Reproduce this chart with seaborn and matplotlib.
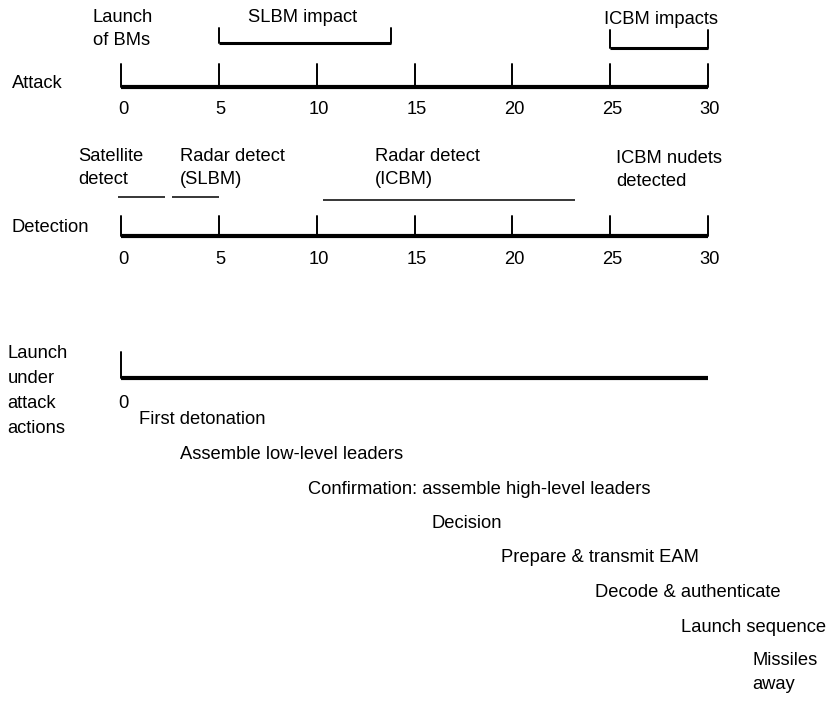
# coding: utf-8
import seaborn as sns
import matplotlib.pyplot as plt
import pandas as pd

width, height, my_dpi = 829, 702, 100

# timeline data (minutes)
ticks = [0, 5, 10, 15, 20, 25, 30]
slbm_impact = [5, 13.8]
icbm_impacts = [25, 30]
satellite_detect = [-0.15, 2.25]
radar_slbm = [2.6, 5.0]
radar_icbm = [10.3, 23.2]
lua_span = [0, 30]
action_labels = ["First detonation", "Assemble low-level leaders",
                 "Confirmation: assemble high-level leaders", "Decision",
                 "Prepare & transmit EAM", "Decode & authenticate",
                 "Launch sequence", "Missiles\naway"]
action_starts = [0.9, 3.0, 9.55, 15.85, 19.4, 24.2, 28.6, 32.25]

sns.set_style("white")
plt.rcParams['font.family'] = ['Liberation Sans', 'DejaVu Sans']
plt.rcParams['text.color'] = 'black'
fs = 13.2

f = plt.figure(figsize=(width / my_dpi, height / my_dpi), dpi=my_dpi)
ax = f.add_axes([0, 0, 1, 1])
ppu = (708 - 121) / 30.0
ax.set_xlim(-121 / ppu, (width - 121) / ppu)
ax.set_ylim(height, 0)
ax.axis('off')


def seg(x0, x1, y, lw):
    d = pd.DataFrame({'x': [x0, x1], 'y': [y, y]})
    sns.lineplot(data=d, x='x', y='y', color='black', linewidth=lw,
                 estimator=None, sort=False, ax=ax, solid_capstyle='butt')


def vticks(xs, y0, y1, lw=1.4):
    d = pd.DataFrame({'x': [x for x in xs for _ in (0, 1)],
                      'y': [y for _ in xs for y in (y0, y1)],
                      'u': [i for i in range(len(xs)) for _ in (0, 1)]})
    sns.lineplot(data=d, x='x', y='y', units='u', estimator=None, sort=False,
                 color='black', linewidth=lw, ax=ax)


def label(x, y, s, ha='left', ls=1.5):
    ax.text(x, y, s, ha=ha, va='center', size=fs, color='black', linespacing=ls)


# Attack row
seg(ticks[0], ticks[-1], 87, 3.0)
vticks(ticks, 64, 87)
for t in ticks:
    label(t + 0.1, 109, str(t), ha='center')
label(-5.55, 83, "Attack")
label(-1.45, 29, "Launch\nof BMs")
seg(slbm_impact[0], slbm_impact[1], 43, 2.2)
vticks(slbm_impact, 28, 43)
label(sum(slbm_impact) / 2 - 0.1, 18, "SLBM impact", ha='center')
seg(icbm_impacts[0], icbm_impacts[1], 48, 2.2)
vticks(icbm_impacts, 30, 48)
label(24.7, 20, "ICBM impacts")

# Detection row
seg(ticks[0], ticks[-1], 236, 3.0)
vticks(ticks, 216, 236)
for t in ticks:
    label(t + 0.1, 259, str(t), ha='center')
label(-5.6, 228, "Detection")
seg(satellite_detect[0], satellite_detect[1], 197, 1.1)
seg(radar_slbm[0], radar_slbm[1], 197, 1.1)
seg(radar_icbm[0], radar_icbm[1], 200, 1.1)
label(-2.2, 168, "Satellite\ndetect")
label(3.0, 168, "Radar detect\n(SLBM)")
label(12.98, 168, "Radar detect\n(ICBM)")
label(25.3, 170, "ICBM nudets\ndetected")

# Launch under attack row
seg(lua_span[0], lua_span[1], 378, 3.0)
vticks([lua_span[0]], 352, 378)
label(-0.15, 404, "0")
label(-5.8, 391, "Launch\nunder\nattack\nactions", ls=1.63)
for i, (lab, x) in enumerate(zip(action_labels, action_starts)):
    y = 420 + 34.5 * i
    if '\n' in lab:
        y += 11
    label(x, y, lab)

plt.savefig('out.png', dpi=my_dpi)
